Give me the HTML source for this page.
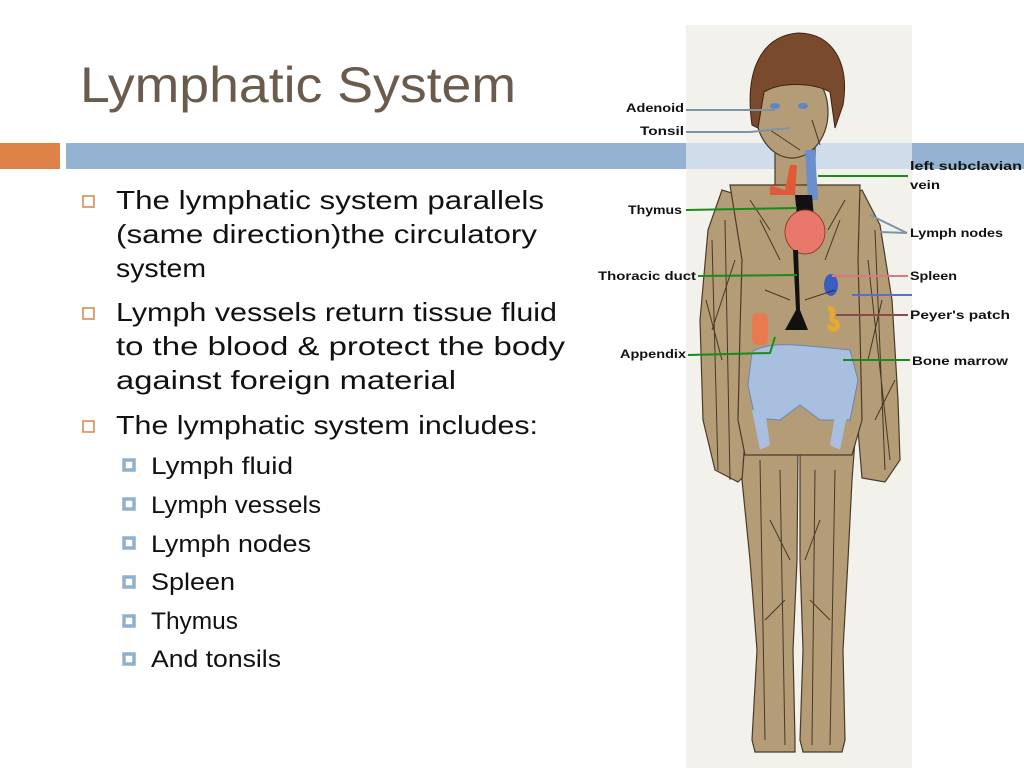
<!DOCTYPE html>
<html><head><meta charset="utf-8"><style>
html,body{margin:0;padding:0;background:#fff;}
svg{display:block;}
.t{font-family:"Liberation Sans",sans-serif;fill:#111;}
.l{font-family:"Liberation Sans",sans-serif;font-weight:bold;fill:#111;font-size:12px;}
</style></head><body>
<svg width="1024" height="768" viewBox="0 0 1024 768" xmlns="http://www.w3.org/2000/svg">
<rect width="1024" height="768" fill="#fff"/>
<text x="80" y="102" class="t" style="fill:#6b5b4d" font-size="50" textLength="436" lengthAdjust="spacingAndGlyphs">Lymphatic System</text>
<rect x="686" y="25" width="226" height="743" fill="#f3f1ec"/>
<rect x="0" y="143" width="60" height="26" fill="#dd8247"/>
<rect x="66" y="143" width="620" height="26" fill="#94b3d2"/>
<rect x="686" y="143" width="226" height="26" fill="#cfdcea"/>
<rect x="912" y="143" width="112" height="26" fill="#94b3d2"/>

<g stroke="#4a3a28" stroke-width="1.2" fill="#b39c76">
  <rect x="775" y="140" width="40" height="55"/>
  <path d="M722,190 L708,230 L700,320 L703,420 L715,470 L738,482 L750,470 L745,430 L740,330 L745,260 L755,200 Z"/>
  <path d="M862,190 L880,225 L892,300 L898,400 L900,460 L885,482 L862,478 L858,430 L855,330 L848,260 L840,200 Z"/>
  <path d="M745,440 L798,450 L797,560 L793,650 L795,740 L795,752 L755,752 L752,740 L757,650 L750,560 L742,480 Z"/>
  <path d="M800,450 L855,440 L852,480 L848,560 L843,650 L845,740 L842,752 L803,752 L800,740 L803,650 L800,560 Z"/>
  <path d="M730,185 L860,185 L858,260 L860,330 L862,420 L852,455 L745,455 L738,420 L740,330 L742,260 Z"/>
  <ellipse cx="792" cy="112" rx="36" ry="46"/>
</g>
<path d="M752,125 C744,70 762,36 798,33 C832,33 850,62 843,105 L835,128 L830,92 C812,82 780,82 764,92 L758,128 Z" fill="#7a4a2c" stroke="#3a2414"/>
<ellipse cx="775" cy="106" rx="5" ry="3" fill="#5d86c4"/>
<ellipse cx="803" cy="106" rx="5" ry="3" fill="#5d86c4"/>
<path d="M752,352 C770,340 800,345 850,350 L858,380 L850,420 L820,420 L800,405 L780,420 L755,418 L748,385 Z" fill="#a9bfe0" stroke="#6b86b0"/>
<path d="M752,410 L760,450 L770,445 L765,410 Z M848,410 L840,450 L830,445 L836,410 Z" fill="#a9bfe0"/>
<path d="M770,185 L785,190 L790,165 L797,165 L795,195 L770,195 Z" fill="#e05a3a"/>
<path d="M805,150 L815,150 L818,200 L808,200 Z" fill="#6a8fcf"/>
<path d="M795,195 L812,195 L814,218 L797,218 Z" fill="#111"/>
<ellipse cx="805" cy="232" rx="20" ry="22" fill="#e8776c" stroke="#9a3a32"/>
<path d="M793,250 L796,310 L785,330 L808,330 L800,310 L798,250 Z" fill="#111"/>
<ellipse cx="831" cy="285" rx="7" ry="11" fill="#3b5cc0"/>
<path d="M828,308 C840,310 825,318 836,322 C842,330 828,332 830,325" stroke="#e8a830" stroke-width="5" fill="none"/>
<rect x="752" y="313" width="16" height="32" rx="5" fill="#e87a50"/>
<g stroke="#2a1f14" stroke-width="1" fill="none" opacity="0.8">
  <path d="M712,240 L718,470 M725,220 L730,480 M875,230 L885,470 M868,260 L890,460 M706,300 L722,360 M735,260 L712,330 M882,300 L868,360 M895,380 L875,420"/>
  <path d="M760,460 L765,740 M780,470 L785,745 M815,470 L812,745 M835,470 L830,745 M770,520 L790,560 M820,520 L805,560 M765,620 L785,600 M830,620 L810,600"/>
  <path d="M760,220 L780,260 M840,220 L825,260 M765,290 L790,300 M835,290 L805,300 M770,130 L800,150 M812,120 L820,145 M750,200 L770,230 M845,200 L828,230"/>
</g>
<g fill="none" stroke-width="2">
  <line x1="686" y1="110" x2="775" y2="110" stroke="#7d94a8"/>
  <path d="M686,132 L750,132 L790,128" stroke="#7d94a8"/>
  <line x1="818" y1="176" x2="908" y2="176" stroke="#1a8a1a"/>
  <line x1="686" y1="210" x2="797" y2="208" stroke="#1a8a1a"/>
  <path d="M870,215 L907,233 M880,232 L907,233" stroke="#7d94a8"/>
  <line x1="698" y1="276" x2="797" y2="275" stroke="#1a8a1a"/>
  <line x1="832" y1="276" x2="908" y2="276" stroke="#d87a80"/>
  <line x1="852" y1="295" x2="912" y2="295" stroke="#5a6ed0"/>
  <line x1="836" y1="315" x2="908" y2="315" stroke="#8a4a4a"/>
  <path d="M688,355 L770,353 L775,337" stroke="#1a8a1a"/>
  <line x1="843" y1="360" x2="910" y2="360" stroke="#1a8a1a"/>
</g>
<text x="626" y="112" class="l" textLength="58" lengthAdjust="spacingAndGlyphs">Adenoid</text>
<text x="640" y="135" class="l" textLength="44" lengthAdjust="spacingAndGlyphs">Tonsil</text>
<text x="910" y="170" class="l" textLength="112" lengthAdjust="spacingAndGlyphs">left subclavian</text>
<text x="910" y="189" class="l" textLength="30" lengthAdjust="spacingAndGlyphs">vein</text>
<text x="628" y="214" class="l" textLength="54" lengthAdjust="spacingAndGlyphs">Thymus</text>
<text x="910" y="237" class="l" textLength="93" lengthAdjust="spacingAndGlyphs">Lymph nodes</text>
<text x="598" y="280" class="l" textLength="98" lengthAdjust="spacingAndGlyphs">Thoracic duct</text>
<text x="910" y="280" class="l" textLength="47" lengthAdjust="spacingAndGlyphs">Spleen</text>
<text x="910" y="319" class="l" textLength="100" lengthAdjust="spacingAndGlyphs">Peyer's patch</text>
<text x="620" y="358" class="l" textLength="66" lengthAdjust="spacingAndGlyphs">Appendix</text>
<text x="912" y="365" class="l" textLength="96" lengthAdjust="spacingAndGlyphs">Bone marrow</text>

<g fill="none" stroke="#dd8247" stroke-width="1.5">
  <rect x="83" y="196" width="11" height="11"/>
  <rect x="83" y="308" width="11" height="11"/>
  <rect x="83" y="421" width="11" height="11"/>
</g>
<g class="t" font-size="26">
  <text x="116" y="209" textLength="428" lengthAdjust="spacingAndGlyphs">The lymphatic system parallels</text>
  <text x="116" y="243" textLength="421" lengthAdjust="spacingAndGlyphs">(same direction)the circulatory</text>
  <text x="116" y="277" textLength="90" lengthAdjust="spacingAndGlyphs">system</text>
  <text x="116" y="321" textLength="441" lengthAdjust="spacingAndGlyphs">Lymph vessels return tissue fluid</text>
  <text x="116" y="355" textLength="449" lengthAdjust="spacingAndGlyphs">to the blood &amp; protect the body</text>
  <text x="116" y="389" textLength="340" lengthAdjust="spacingAndGlyphs">against foreign material</text>
  <text x="116" y="434" textLength="422" lengthAdjust="spacingAndGlyphs">The lymphatic system includes:</text>
</g>
<g fill="none" stroke="#8fb0cf" stroke-width="3.5">
  <rect x="124" y="460" width="10" height="10"/>
  <rect x="124" y="499" width="10" height="10"/>
  <rect x="124" y="538" width="10" height="10"/>
  <rect x="124" y="577" width="10" height="10"/>
  <rect x="124" y="616" width="10" height="10"/>
  <rect x="124" y="654" width="10" height="10"/>
</g>
<g class="t" font-size="24">
  <text x="151" y="474" textLength="142" lengthAdjust="spacingAndGlyphs">Lymph fluid</text>
  <text x="151" y="513" textLength="170" lengthAdjust="spacingAndGlyphs">Lymph vessels</text>
  <text x="151" y="552" textLength="160" lengthAdjust="spacingAndGlyphs">Lymph nodes</text>
  <text x="151" y="590" textLength="84" lengthAdjust="spacingAndGlyphs">Spleen</text>
  <text x="151" y="629" textLength="87" lengthAdjust="spacingAndGlyphs">Thymus</text>
  <text x="151" y="667" textLength="130" lengthAdjust="spacingAndGlyphs">And tonsils</text>
</g>
</svg>
</body></html>
